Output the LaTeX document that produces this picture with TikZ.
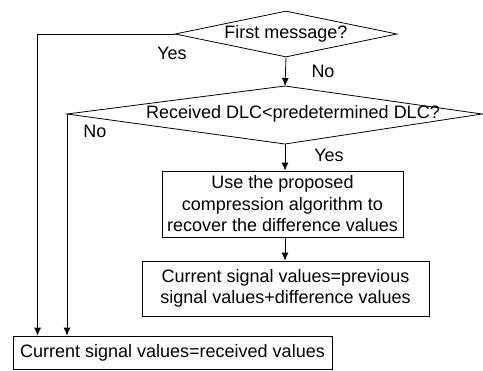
\documentclass[tikz,border=0pt]{standalone}
\usepackage{fontspec}
\setmainfont{Liberation Sans}
\usetikzlibrary{shapes.geometric,arrows.meta}
\newcommand{\taillef}{\fontsize{18bp}{21.5bp}\selectfont}

\begin{document}
\begin{tikzpicture}[x=1bp,y=-1bp,line width=0.8pt,font=\taillef,
    >={Latex[length=8bp,width=7bp]},
    stepbox/.style={draw,rectangle,inner sep=0pt,align=center},
    label/.style={inner sep=0pt}]
        \useasboundingbox (0,0) rectangle (483,370);
        % first question
        \node[draw,diamond,inner sep=0pt,aspect=4.8,minimum width=222bp,minimum height=46bp] (first) at (286,34) {First message?};
        % second question, drawn as a kite
        \coordinate (dlct) at (285,86);
        \coordinate (dlcr) at (482,114);
        \coordinate (dlcb) at (285,144);
        \coordinate (dlcl) at (67,114);
        \draw (dlct) -- (dlcr) -- (dlcb) -- (dlcl) -- cycle;
        \node[label] (dlc) at (293,114) {Received DLC<predetermined DLC?};
        \draw[->] (first.south) -- (dlct);
        \node[label] (no1) at (323,71) {No};
        \node[label] (yes1) at (172,53) {Yes};
        % boxes
        \node[stepbox,minimum width=241bp,minimum height=66bp] (algo) at (282.5,204) {Use the proposed\\ compression algorithm to\\ recover the difference values};
        \draw[->] (dlcb) -- (dlcb |- algo.north);
        \node[label] (yes2) at (329,155) {Yes};
        \node[stepbox,minimum width=287bp,minimum height=55bp] (prev) at (285.5,288.5) {Current signal values=previous\\ signal values+difference values};
        \draw[->] (dlcb |- algo.south) -- (dlcb |- prev.north);
        \node[stepbox,minimum width=319bp,minimum height=33bp] (recv) at (172.5,352.5) {Current signal values=received values};
        \draw[->] (first.west) -| ([xshift=25bp]recv.north west);
        \draw[->] (dlcl) -- (dlcl |- recv.north);
        \node[label] (no2) at (95,131) {No};
      \end{tikzpicture}
\end{document}
